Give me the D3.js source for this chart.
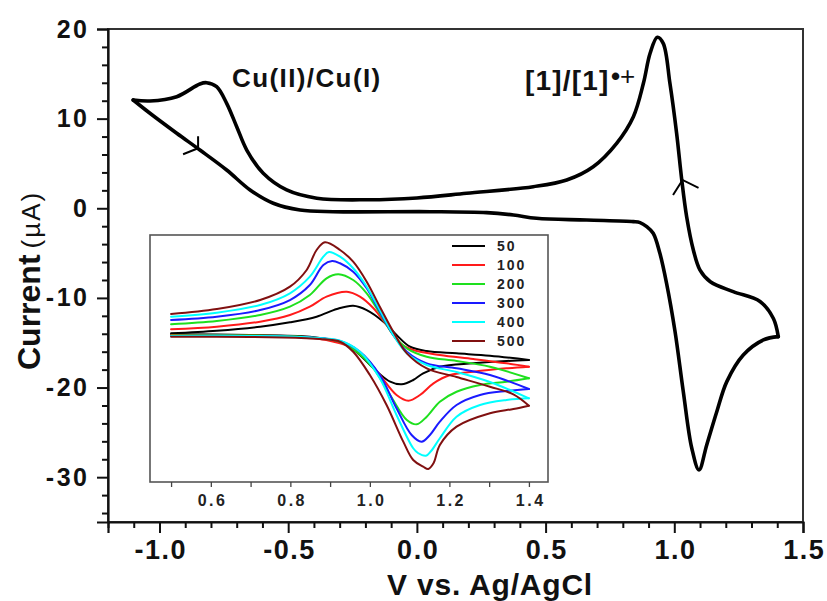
<!DOCTYPE html>
<html><head><meta charset="utf-8">
<script src="https://cdn.jsdelivr.net/npm/d3@7"></script>
<style>body{margin:0;background:#fff}svg{display:block}text{font-family:"Liberation Sans",Arial,Helvetica,sans-serif}</style>
</head><body><svg id="c" width="827" height="601"></svg>
<script>
// ---------- DATA ----------
// main CV (V vs Ag/AgCl, current in µA)
const mainUpper = [[-1.102,12.08],[-1.037,11.97],[-0.933,12.45],[-0.843,13.87],[-0.817,14.01],[-0.778,13.57],[-0.739,11.71],[-0.700,9.1],[-0.661,6.5],[-0.597,3.9],[-0.506,2.04],[-0.389,1.12],[-0.19,0.95],[0.0,1.15],[0.193,1.67],[0.452,2.41],[0.582,3.16],[0.685,4.64],[0.776,7.25],[0.841,10.22],[0.880,13.94],[0.906,17.29],[0.934,19.08],[0.957,18.4],[0.983,13.94],[1.009,8.37],[1.029,3.16],[1.048,-0.94],[1.074,-4.65],[1.10,-6.9],[1.14,-8.2],[1.229,-9.3],[1.333,-10.4],[1.385,-12.3],[1.404,-14.32]];
const mainLower = [[-1.102,12.08],[-1.037,10.6],[-0.933,8.37],[-0.843,6.5],[-0.739,4.27],[-0.648,2.04],[-0.558,0.56],[-0.454,-0.19],[-0.325,-0.38],[0.051,-0.38],[0.271,-0.49],[0.375,-0.75],[0.465,-1.12],[0.660,-1.31],[0.841,-1.49],[0.867,-1.6],[0.893,-2.05],[0.918,-2.79],[0.944,-5.02],[0.970,-8.37],[1.003,-13.77],[1.035,-20.46],[1.068,-26.77],[1.096,-29.19],[1.126,-26.4],[1.165,-22.7],[1.204,-19.34],[1.268,-16.37],[1.346,-14.69],[1.404,-14.32]];
const arrowAnchors = [[-0.85,6.7],[1.032,3.16]];

const xMajor = [-1.0,-0.5,0.0,0.5,1.0,1.5];
const yMajor = [20,10,0,-10,-20,-30];

// inset: scan rates (mV/s)
const rates = ["50","100","200","300","400","500"];
const rateColors = ["#000000","#ff1a1a","#1ee01e","#1a1aff","#00ffff","#801010"];
const ins50U = [[0.50,-0.92],[0.615,-0.50],[0.724,0.15],[0.799,0.86],[0.866,1.77],[0.917,3.02],[0.958,3.55],[0.992,2.85],[1.034,0.96],[1.067,-1.19],[1.101,-3.09],[1.143,-3.79],[1.218,-4.16],[1.302,-4.55],[1.40,-5.24]];
const ins50L = [[1.40,-5.24],[1.344,-5.40],[1.260,-5.78],[1.176,-6.33],[1.134,-7.40],[1.109,-8.48],[1.080,-9.18],[1.051,-8.76],[1.009,-6.59],[0.975,-4.43],[0.942,-2.81],[0.917,-2.17],[0.849,-1.47],[0.698,-1.19],[0.50,-1.08]];
const ins100U = [[0.50,-0.27],[0.615,0.15],[0.724,0.96],[0.799,2.04],[0.849,3.39],[0.891,5.01],[0.942,5.82],[0.975,5.01],[1.009,3.13],[1.042,0.43],[1.076,-2.54],[1.109,-3.62],[1.176,-4.43],[1.260,-5.08],[1.344,-5.78],[1.40,-6.33]];
const ins100L = [[1.40,-6.33],[1.344,-6.59],[1.260,-7.14],[1.202,-7.67],[1.160,-9.02],[1.126,-10.91],[1.097,-11.83],[1.067,-10.91],[1.025,-7.67],[0.983,-4.43],[0.950,-3.09],[0.925,-2.54],[0.849,-1.60],[0.698,-1.27],[0.50,-1.19]];
const ins200U = [[0.50,0.54],[0.615,1.07],[0.724,2.04],[0.799,3.39],[0.849,5.28],[0.891,7.99],[0.921,8.64],[0.958,7.71],[0.992,5.56],[1.025,2.32],[1.059,-1.19],[1.093,-3.35],[1.143,-4.71],[1.218,-5.40],[1.302,-6.33],[1.40,-8.21]];
const ins200L = [[1.40,-8.21],[1.344,-8.76],[1.277,-9.29],[1.218,-10.38],[1.176,-12.00],[1.143,-14.42],[1.118,-15.66],[1.093,-14.96],[1.051,-10.91],[1.009,-6.59],[0.967,-3.90],[0.925,-2.28],[0.849,-1.60],[0.698,-1.27],[0.50,-1.27]];
const ins300U = [[0.50,1.24],[0.615,1.77],[0.724,2.85],[0.799,4.47],[0.849,6.90],[0.883,10.14],[0.905,10.79],[0.925,10.42],[0.958,9.06],[0.992,6.37],[1.025,2.58],[1.059,-1.19],[1.093,-3.90],[1.143,-5.78],[1.218,-6.59],[1.302,-7.67],[1.40,-9.94]];
const ins300L = [[1.40,-9.94],[1.344,-10.26],[1.277,-10.91],[1.218,-12.53],[1.176,-15.23],[1.151,-17.39],[1.130,-18.47],[1.105,-17.39],[1.067,-13.06],[1.025,-7.67],[0.975,-3.90],[0.925,-2.17],[0.849,-1.60],[0.698,-1.36],[0.50,-1.36]];
const ins400U = [[0.50,1.77],[0.615,2.42],[0.724,3.66],[0.799,5.56],[0.849,8.25],[0.883,11.49],[0.897,12.25],[0.925,11.49],[0.958,9.61],[0.992,6.63],[1.025,2.85],[1.059,-1.19],[1.093,-4.16],[1.143,-6.05],[1.218,-7.19],[1.302,-8.81],[1.40,-11.45]];
const ins400L = [[1.40,-11.45],[1.344,-11.72],[1.277,-12.53],[1.218,-14.42],[1.176,-17.92],[1.154,-19.98],[1.141,-20.74],[1.121,-20.30],[1.109,-19.54],[1.067,-14.15],[1.025,-8.21],[0.975,-3.90],[0.925,-2.12],[0.849,-1.60],[0.698,-1.36],[0.50,-1.36]];
const ins500U = [[0.50,2.21],[0.615,3.02],[0.724,4.47],[0.799,6.63],[0.841,9.33],[0.866,12.57],[0.887,13.82],[0.925,12.57],[0.958,10.68],[0.992,7.44],[1.025,3.39],[1.059,-0.66],[1.093,-4.16],[1.143,-6.59],[1.218,-8.00],[1.302,-9.57],[1.361,-10.80],[1.40,-12.64]];
const ins500L = [[1.40,-12.64],[1.361,-13.18],[1.302,-13.87],[1.218,-16.04],[1.176,-19.01],[1.160,-21.97],[1.147,-22.89],[1.134,-22.52],[1.109,-21.44],[1.084,-18.47],[1.042,-12.53],[1.000,-7.67],[0.958,-3.90],[0.925,-2.28],[0.875,-1.84],[0.841,-1.73],[0.698,-1.52],[0.50,-1.47]];
const insetUpper = [ins50U,ins100U,ins200U,ins300U,ins400U,ins500U];
const insetLower = [ins50L,ins100L,ins200L,ins300L,ins400L,ins500L];
const insetXMajor = [0.6,0.8,1.0,1.2,1.4];
const insetXMinor = [0.5,0.7,0.9,1.1,1.3];

// ---------- DRAW ----------
const svg = d3.select("#c");
const FONT = '"Liberation Sans",Arial,Helvetica,sans-serif';
const x = d3.scaleLinear().domain([-1.2,1.5]).range([108,803]);
const y = d3.scaleLinear().domain([-35,20]).range([522,29]);
const fmtDash = f => d => f(d).replace("\u2212","-");

// frame
svg.append("rect").attr("x",108).attr("y",29).attr("width",695).attr("height",493)
  .attr("fill","none").attr("stroke","#333").attr("stroke-width",2);

// y axis
const yMinor = d3.range(-34,21,2).filter(v=>!yMajor.includes(v));
svg.append("g").attr("transform","translate(108,0)")
  .call(d3.axisLeft(y).tickValues(yMinor).tickSize(6).tickFormat(""))
  .call(g=>g.select(".domain").remove()).selectAll("line").attr("stroke","#111").attr("stroke-width",2);
const gy = svg.append("g").attr("transform","translate(108,0)")
  .call(d3.axisLeft(y).tickValues(yMajor).tickSize(11).tickPadding(10).tickFormat(fmtDash(d3.format("d"))));
gy.select(".domain").attr("stroke","#111").attr("stroke-width",2.2);
gy.selectAll("line").attr("stroke","#111").attr("stroke-width",2);
gy.selectAll("text").attr("font-family",FONT).attr("font-size",25).attr("font-weight","bold")
  .attr("fill","#111").style("letter-spacing","2.5px").attr("dx",2.5);

// x axis
const xMinor = d3.range(-12,16,1).map(v=>v/10).filter(v=>!xMajor.some(m=>Math.abs(m-v)<1e-9));
svg.append("g").attr("transform","translate(0,522)")
  .call(d3.axisBottom(x).tickValues(xMinor).tickSize(6).tickFormat(""))
  .call(g=>g.select(".domain").remove()).selectAll("line").attr("stroke","#111").attr("stroke-width",2);
const gx = svg.append("g").attr("transform","translate(0,522)")
  .call(d3.axisBottom(x).tickValues(xMajor).tickSize(11).tickPadding(7).tickFormat(fmtDash(d3.format(".1f"))));
gx.select(".domain").attr("stroke","#111").attr("stroke-width",2.2);
gx.selectAll("line").attr("stroke","#111").attr("stroke-width",2);
gx.selectAll("text").attr("font-family",FONT).attr("font-size",27).attr("font-weight","bold")
  .attr("fill","#111").style("letter-spacing","1.5px").attr("dx",0.75);

// axis titles
svg.append("text").attr("x",490).attr("y",595).attr("text-anchor","middle")
  .attr("font-size",30).attr("font-weight","bold").attr("fill","#111").style("letter-spacing","0.8px")
  .text("V vs. Ag/AgCl");
const yt = svg.append("text").attr("transform","translate(40,370) rotate(-90)").attr("fill","#111");
yt.append("tspan").attr("font-size",32).attr("font-weight","bold").text("Current");
yt.append("tspan").attr("dx",6).attr("font-size",26).style("letter-spacing","2px").text("(\u00b5A)");

// main curve
const line = d3.line().x(d=>x(d[0])).y(d=>y(d[1])).curve(d3.curveCatmullRom.alpha(0.5));
[mainUpper, mainLower].forEach(arr=>{
  svg.append("path").attr("d",line(arr)).attr("fill","none").attr("stroke","#000")
    .attr("stroke-width",3.6).attr("stroke-linejoin","round").attr("stroke-linecap","round");
});

// arrows on main curve
const barbs = [[[-15,6],[0,-12]],[[-9.5,15],[16,8]]];
arrowAnchors.forEach((a,i)=>{
  const px = x(a[0]), py = y(a[1]);
  const b = barbs[i];
  svg.append("path").attr("d",`M${px+b[0][0]},${py+b[0][1]}L${px},${py}L${px+b[1][0]},${py+b[1][1]}`)
    .attr("fill","none").attr("stroke","#000").attr("stroke-width",2);
});

// annotations
svg.append("text").attr("x",232).attr("y",87).attr("font-size",26).attr("font-weight","bold")
  .attr("fill","#111").style("letter-spacing","1.4px").text("Cu(II)/Cu(I)");
svg.append("text").attr("x",525).attr("y",90).attr("font-size",28).attr("font-weight","bold")
  .attr("fill","#111").style("letter-spacing","1.2px").text("[1]/[1]");
const sup = svg.append("text").attr("x",611).attr("y",85).attr("fill","#111");
sup.append("tspan").attr("font-size",26).attr("font-weight","bold").text("\u2022");
sup.append("tspan").attr("font-size",26).text("+");

// ---------- INSET ----------
const xi = d3.scaleLinear().domain([0.447,1.448]).range([150,548]);
const yi = d3.scaleLinear().domain([-25,15]).range([482,235]);
svg.append("rect").attr("x",150).attr("y",235).attr("width",398).attr("height",247)
  .attr("fill","#fff").attr("stroke","#555").attr("stroke-width",1.6);
const gxi = svg.append("g").attr("transform","translate(0,482)")
  .call(d3.axisBottom(xi).tickValues(insetXMajor.concat(insetXMinor)).tickSize(5).tickPadding(8)
    .tickFormat(d=>insetXMajor.some(m=>Math.abs(m-d)<1e-9)?d3.format(".1f")(d):""));
gxi.select(".domain").remove();
gxi.selectAll("line").attr("stroke","#444").attr("stroke-width",1.3);
gxi.selectAll("text").attr("font-family",FONT).attr("font-size",16).attr("font-weight","bold")
  .attr("fill","#222").style("letter-spacing","2.5px").attr("dx",1.25);

const linei = d3.line().x(d=>xi(d[0])).y(d=>yi(d[1])).curve(d3.curveCatmullRom.alpha(0.5));
rates.forEach((r,i)=>{
  [insetUpper[i], insetLower[i]].forEach(arr=>{
    svg.append("path").attr("d",linei(arr)).attr("fill","none").attr("stroke",rateColors[i])
      .attr("stroke-width",2).attr("stroke-linejoin","round").attr("stroke-linecap","round");
  });
});

// legend
rates.forEach((r,i)=>{
  const cy = 246 + i*19;
  svg.append("line").attr("x1",452).attr("x2",485).attr("y1",cy).attr("y2",cy)
    .attr("stroke",rateColors[i]).attr("stroke-width",2);
  svg.append("text").attr("x",497).attr("y",cy+5).attr("font-size",14).attr("font-weight","bold")
    .attr("fill","#222").style("letter-spacing","2px").text(r);
});
</script></body></html>
